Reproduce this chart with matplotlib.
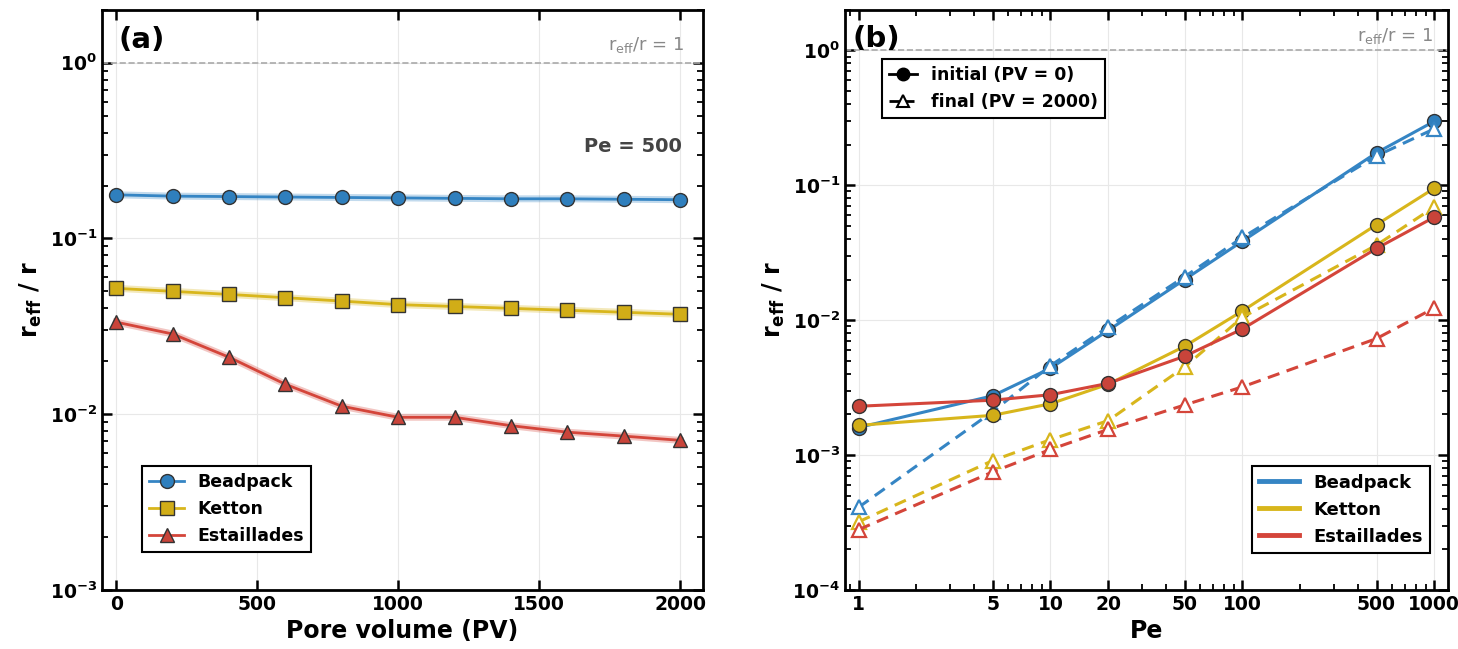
import numpy as np
import matplotlib
matplotlib.use('Agg')
import matplotlib.pyplot as plt
from matplotlib.lines import Line2D
from matplotlib.ticker import FixedLocator, NullFormatter, LogLocator

plt.rcParams['font.family'] = ['DejaVu Sans']
plt.rcParams['font.weight'] = 'bold'
plt.rcParams['axes.labelweight'] = 'bold'
plt.rcParams['mathtext.default'] = 'bf'

# data, panel (a): r_eff/r versus pore volume at Pe = 500
pv = [0, 200, 400, 600, 800, 1000, 1200, 1400, 1600, 1800, 2000]
bead_pv = [0.177, 0.174, 0.173, 0.172, 0.171, 0.170, 0.169, 0.168, 0.168, 0.167, 0.166]
ketton_pv = [0.052, 0.050, 0.048, 0.046, 0.044, 0.042, 0.041, 0.040, 0.039, 0.038, 0.037]
estail_pv = [0.0334, 0.0286, 0.0211, 0.0148, 0.0111, 0.0096, 0.0096, 0.0086, 0.0079, 0.0075, 0.0071]

# data, panel (b): r_eff/r versus Pe, initial and final
pe = [1, 5, 10, 20, 50, 100, 500, 1000]
bead_init = [1.6e-3, 2.75e-3, 4.4e-3, 8.4e-3, 0.020, 0.0385, 0.174, 0.298]
bead_final = [4.1e-4, 2.1e-3, 4.6e-3, 8.9e-3, 0.021, 0.041, 0.165, 0.262]
ketton_init = [1.66e-3, 1.97e-3, 2.4e-3, 3.35e-3, 6.4e-3, 0.0117, 0.051, 0.095]
ketton_final = [3.2e-4, 9.1e-4, 1.3e-3, 1.8e-3, 4.5e-3, 0.0105, 0.036, 0.069]
estail_init = [2.3e-3, 2.55e-3, 2.8e-3, 3.4e-3, 5.4e-3, 8.6e-3, 0.034, 0.058]
estail_final = [2.8e-4, 7.5e-4, 1.1e-3, 1.55e-3, 2.35e-3, 3.2e-3, 7.3e-3, 0.0123]

names = ['Beadpack', 'Ketton', 'Estaillades']
colors = ['#3585c4', '#d8b61c', '#d4453a']
face = ['#2f7fbd', '#d1ad17', '#c9443a']
markers_a = ['o', 's', '^']

fig = plt.figure(figsize=(14.58, 6.49), dpi=100)
ax1 = fig.add_axes([0.070, 0.091, 0.412, 0.894])
ax2 = fig.add_axes([0.5796, 0.091, 0.4136, 0.894])


def style_axes(ax):
    for s in ax.spines.values():
        s.set_linewidth(2)
    ax.tick_params(which='both', direction='in', top=True, right=True,
                   labelsize=13.5)
    ax.tick_params(which='major', length=7, width=1.8)
    ax.tick_params(which='minor', length=4, width=1.3)
    ax.grid(True, which='major', color='#e8e8e8', linewidth=0.8)
    ax.set_axisbelow(True)
    for lab in ax.get_xticklabels() + ax.get_yticklabels():
        lab.set_fontweight('bold')


# panel (a)
series_a = [bead_pv, ketton_pv, estail_pv]
for i in range(3):
    ax1.plot(pv, series_a[i], color=colors[i], lw=5, alpha=0.3, zorder=2)
    ax1.plot(pv, series_a[i], color=colors[i], lw=2, marker=markers_a[i],
             ms=10, mfc=face[i], mec='#333333', mew=1.0, label=names[i],
             zorder=3)
ax1.set_yscale('log')
ax1.set_ylim(1e-3, 2)
ax1.set_xlim(-50, 2080)
ax1.set_xticks([0, 500, 1000, 1500, 2000])
ax1.yaxis.set_major_locator(LogLocator(base=10, numticks=10))
ax1.yaxis.set_minor_locator(LogLocator(base=10, subs=np.arange(2, 10), numticks=10))
ax1.yaxis.set_minor_formatter(NullFormatter())
ax1.axhline(1, color='#aaaaaa', ls='--', lw=1.2, zorder=1)
ax1.text(0.97, 0.94, r'r$_{\mathregular{eff}}$/r = 1', transform=ax1.transAxes,
         ha='right', va='center', fontsize=13, color='#888888', fontweight='normal')
ax1.text(0.965, 0.764, 'Pe = 500', transform=ax1.transAxes, ha='right',
         va='center', fontsize=14, color='#444444', fontweight='bold')
ax1.text(0.027, 0.948, '(a)', transform=ax1.transAxes, ha='left', va='center',
         fontsize=21, fontweight='bold')
ax1.set_xlabel('Pore volume (PV)', fontsize=17, fontweight='bold')
ax1.set_ylabel(r'r$_{\mathbf{eff}}$ / r', fontsize=17, fontweight='bold')
leg1 = ax1.legend(loc='lower left', bbox_to_anchor=(0.067, 0.066),
                  borderaxespad=0, fancybox=False,
                  edgecolor='black', framealpha=1, handlelength=2,
                  prop={'weight': 'bold', 'size': 12.5})
leg1.get_frame().set_linewidth(1.5)
style_axes(ax1)

# panel (b)
inits = [bead_init, ketton_init, estail_init]
finals = [bead_final, ketton_final, estail_final]
for i in range(3):
    ax2.plot(pe, inits[i], color=colors[i], lw=2.2, marker='o', ms=10,
             mfc=face[i], mec='#333333', mew=1.0, zorder=3)
    ax2.plot(pe, finals[i], color=colors[i], lw=2.2, ls='--', dashes=(4, 2.5),
             marker='^', ms=10, mfc='white', mec=colors[i], mew=1.6, zorder=3)
ax2.set_xscale('log')
ax2.set_yscale('log')
ax2.set_xlim(0.85, 1180)
ax2.set_ylim(1e-4, 2)
ax2.xaxis.set_major_locator(FixedLocator(pe))
ax2.set_xticklabels([str(p) for p in pe])
ax2.xaxis.set_minor_locator(LogLocator(base=10, subs=np.arange(2, 10), numticks=10))
ax2.xaxis.set_minor_formatter(NullFormatter())
ax2.yaxis.set_major_locator(LogLocator(base=10, numticks=10))
ax2.yaxis.set_minor_locator(LogLocator(base=10, subs=np.arange(2, 10), numticks=10))
ax2.yaxis.set_minor_formatter(NullFormatter())
ax2.axhline(1, color='#aaaaaa', ls='--', lw=1.2, zorder=1)
ax2.text(0.975, 0.955, r'r$_{\mathregular{eff}}$/r = 1', transform=ax2.transAxes,
         ha='right', va='center', fontsize=13, color='#888888', fontweight='normal')
ax2.text(0.012, 0.95, '(b)', transform=ax2.transAxes, ha='left', va='center',
         fontsize=21, fontweight='bold')
ax2.set_xlabel('Pe', fontsize=17, fontweight='bold')
ax2.set_ylabel(r'r$_{\mathbf{eff}}$ / r', fontsize=17, fontweight='bold')

style_handles = [
    Line2D([], [], color='black', lw=2, marker='o', ms=9, mfc='black'),
    Line2D([], [], color='black', lw=2, ls='--', marker='^', ms=9,
           mfc='white', mec='black', mew=1.5),
]
leg_a = ax2.legend(style_handles, ['initial (PV = 0)', 'final (PV = 2000)'],
                   loc='upper left', bbox_to_anchor=(0.062, 0.915),
                   borderaxespad=0, fancybox=False, edgecolor='black',
                   framealpha=1, handlelength=1.6,
                   prop={'weight': 'bold', 'size': 12.5})
leg_a.get_frame().set_linewidth(1.5)
ax2.add_artist(leg_a)
mat_handles = [Line2D([], [], color=colors[i], lw=3.5) for i in range(3)]
leg_b = ax2.legend(mat_handles, names, loc='lower right',
                   bbox_to_anchor=(0.97, 0.064), borderaxespad=0,
                   fancybox=False, edgecolor='black', framealpha=1,
                   handlelength=2.2, prop={'weight': 'bold', 'size': 13})
leg_b.get_frame().set_linewidth(1.5)
style_axes(ax2)

fig.savefig('out.png', dpi=100)
